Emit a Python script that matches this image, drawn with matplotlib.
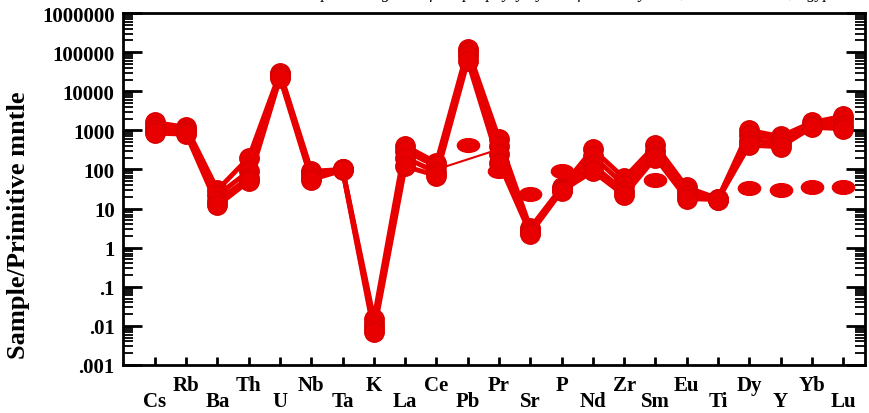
import numpy as np
import matplotlib
matplotlib.use("Agg")
import matplotlib.pyplot as plt
from matplotlib.path import Path
from matplotlib.transforms import Affine2D

# elements on the x axis, in plotting order
elements = ["Cs", "Rb", "Ba", "Th", "U", "Nb", "Ta", "K", "La", "Ce", "Pb", "Pr",
            "Sr", "P", "Nd", "Zr", "Sm", "Eu", "Ti", "Dy", "Y", "Yb", "Lu"]

# sample / primitive mantle values
sample_1 = [1600, 1200, 30, 200, 30000, 90, 100, 0.015, 400, 150, 120000, 600,
            3.2, 35, 330, 60, 420, 35, 18, 1000, 700, 1600, 2300]
sample_2 = [1300, 1000, 22, 90, 27000, 80, 100, 0.011, 300, 120, 100000, 400,
            2.8, 32, 220, 40, 300, 28, 18, 750, 600, 1400, 1800]
sample_3 = [1000, 900, 16, 60, 25000, 65, 100, 0.009, 200, 85, 80000, 250,
            2.5, 30, 130, 28, 220, 22, 17, 550, 480, 1300, 1400]
sample_4 = [850, 800, 12, 50, 22000, 55, 95, 0.007, 120, 70, 60000, 150,
            2.3, 28, 90, 22, 200, 18, 17, 420, 380, 1200, 1100]

# sample plotted with a thin line and no Pb value
thin_sample = [np.nan] * 9 + [100, np.nan, 330] + [np.nan] * 11

# sample plotted as markers only
dot_sample = [np.nan] * 10 + [420, 90, 23, 91, np.nan, np.nan, 55, np.nan, np.nan,
                               33, 29, 35, 35]

y_ticks = [1e-3, 1e-2, 1e-1, 1, 10, 100, 1e3, 1e4, 1e5, 1e6]
y_labels = [".001", ".01", ".1", "1", "10", "100", "1000", "10000", "100000", "1000000"]

red = "#e80000"
plt.rcParams["font.family"] = ["Liberation Serif", "DejaVu Serif"]
plt.rcParams["font.weight"] = "bold"

fig = plt.figure(figsize=(8.7, 4.14), dpi=100)
ax = fig.add_axes([0.1414, 0.116, 0.8529, 0.850])

x = np.arange(len(elements))

for s in [sample_1, sample_2, sample_3, sample_4]:
    ax.plot(x, s, color=red, lw=3.5, marker="o", markersize=14,
            markeredgecolor="#d80000", markeredgewidth=1, solid_joinstyle="round")

# thin line bridges the missing Pb value
t = np.array(thin_sample, dtype=float)
ok = ~np.isnan(t)
ax.plot(x[ok], t[ok], color=red, lw=1.5)

# flattened ellipse markers
ellipse = Path.unit_circle().transformed(Affine2D().scale(1.0, 0.62))
ax.plot(x, dot_sample, linestyle="none", marker=ellipse, markersize=16, color=red)

ax.set_yscale("log")
ax.set_ylim(1e-3, 1e6)
ax.set_xlim(-1.02, 22.7)
ax.set_yticks(y_ticks, y_labels)
ax.set_xticks(x, elements)

ax.tick_params(axis="y", which="major", direction="in", length=14, width=2,
               right=True, labelsize=15, pad=6)
ax.tick_params(axis="y", which="minor", direction="in", length=7, width=1.3,
               right=True)
ax.tick_params(axis="x", direction="in", length=6, width=2, labelsize=15)
for i, tick in enumerate(ax.xaxis.get_major_ticks()):
    tick.set_pad(19 if i % 2 == 0 else 7)

for sp in ax.spines.values():
    sp.set_linewidth(2)

ax.set_ylabel("Sample/Primitive mntle", fontsize=19, fontweight="bold")
ax.yaxis.set_label_coords(-0.125, 0.40)

# caption of the page, cut off by the top edge
fig.text(0.55, 1.004, "Primitive mantle normalized spider diagram of the porphyry dykes of the study area, Eastern Desert, Egypt",
         ha="center", va="baseline", fontsize=12, style="italic", fontweight="normal")

fig.savefig("out.png", dpi=100)
